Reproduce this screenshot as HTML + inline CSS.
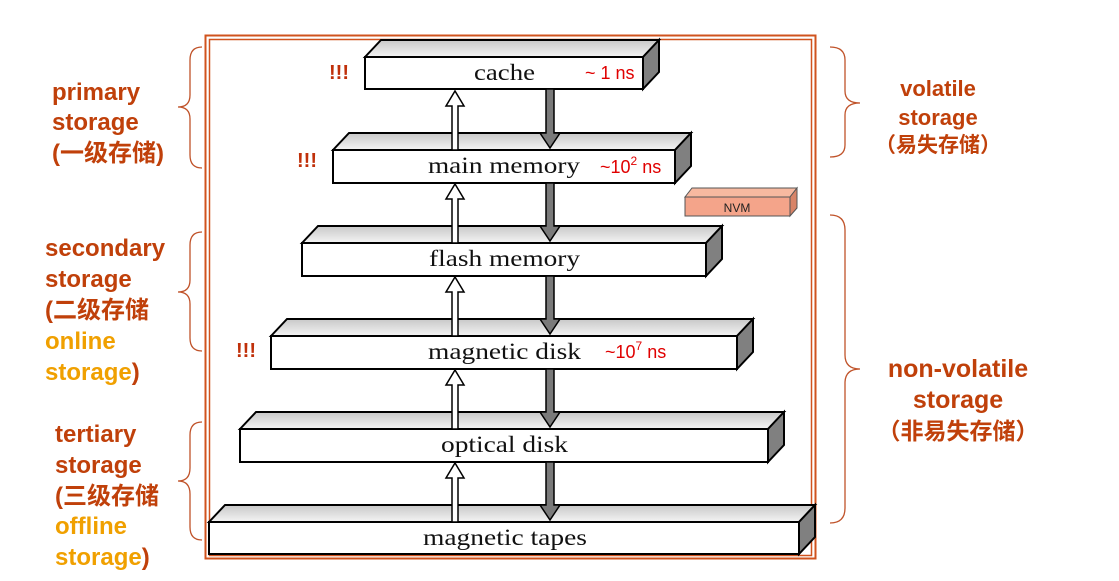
<!DOCTYPE html>
<html><head><meta charset="utf-8"><style>
html,body{margin:0;padding:0;background:#fff}
svg{display:block}
.lab{font-family:"Liberation Sans","Noto Sans CJK SC",sans-serif;font-weight:bold}
.box{font-family:"Liberation Serif",serif;font-size:23px;fill:#111}
.t{font-family:"Liberation Sans",sans-serif;font-size:18px;fill:#e00000}
</style></head><body>
<svg width="1119" height="581" viewBox="0 0 1119 581" xmlns="http://www.w3.org/2000/svg">
<defs>
<linearGradient id="tg" x1="0" y1="0" x2="0" y2="1"><stop offset="0" stop-color="#c8c8c8"/><stop offset="1" stop-color="#f4f4f4"/></linearGradient>
</defs>
<rect x="205.5" y="35.5" width="610" height="523" fill="none" stroke="#d0531e" stroke-width="2"/>
<rect x="209.5" y="39.5" width="602" height="516" fill="none" stroke="#d0531e" stroke-width="1.5"/>

<g stroke="#000" stroke-width="2" stroke-linejoin="miter">
<polygon points="365,57 381,40 659,40 643,57" fill="url(#tg)"/>
<polygon points="643,57 659,40 659,72 643,89" fill="#808080"/>
<rect x="365" y="57" width="278" height="32" fill="#fff"/>
<polygon points="333,150 349,133 691,133 675,150" fill="url(#tg)"/>
<polygon points="675,150 691,133 691,166 675,183" fill="#808080"/>
<rect x="333" y="150" width="342" height="33" fill="#fff"/>
<polygon points="302,243 318,226 722,226 706,243" fill="url(#tg)"/>
<polygon points="706,243 722,226 722,259 706,276" fill="#808080"/>
<rect x="302" y="243" width="404" height="33" fill="#fff"/>
<polygon points="271,336 287,319 753,319 737,336" fill="url(#tg)"/>
<polygon points="737,336 753,319 753,352 737,369" fill="#808080"/>
<rect x="271" y="336" width="466" height="33" fill="#fff"/>
<polygon points="240,429 256,412 784,412 768,429" fill="url(#tg)"/>
<polygon points="768,429 784,412 784,445 768,462" fill="#808080"/>
<rect x="240" y="429" width="528" height="33" fill="#fff"/>
<polygon points="209,522 225,505 815,505 799,522" fill="url(#tg)"/>
<polygon points="799,522 815,505 815,537 799,554" fill="#808080"/>
<rect x="209" y="522" width="590" height="32" fill="#fff"/>
</g>

<g stroke="#555" stroke-width="1">
<polygon points="685,197 692,188 797,188 790,197" fill="#f7b9a0"/>
<polygon points="790,197 797,188 797,208 790,216" fill="#d88468"/>
<rect x="685" y="197" width="105" height="19" fill="#f4a48a"/>
</g>
<text x="737" y="212" text-anchor="middle" font-family="Liberation Sans,sans-serif" font-size="12" fill="#222">NVM</text>

<g stroke="#000" stroke-width="1.5">
<g fill="#fff">
<path d="M452,150 V106 H446 L455,91 L464,106 H458 V150 Z"/>
<path d="M452,243 V199 H446 L455,184 L464,199 H458 V243 Z"/>
<path d="M452,336 V292 H446 L455,277 L464,292 H458 V336 Z"/>
<path d="M452,429 V385 H446 L455,370 L464,385 H458 V429 Z"/>
<path d="M452,522 V478 H446 L455,463 L464,478 H458 V522 Z"/>
</g>
<g fill="#7a7a7a">
<path d="M546,89 V133 H540 L550,148 L560,133 H554 V89 Z"/>
<path d="M546,183 V226 H540 L550,241 L560,226 H554 V183 Z"/>
<path d="M546,276 V319 H540 L550,334 L560,319 H554 V276 Z"/>
<path d="M546,369 V412 H540 L550,427 L560,412 H554 V369 Z"/>
<path d="M546,462 V505 H540 L550,520 L560,505 H554 V462 Z"/>
</g>
</g>

<text class="box" x="474" y="80" textLength="61" lengthAdjust="spacingAndGlyphs">cache</text>
<text class="box" x="428" y="173" textLength="152" lengthAdjust="spacingAndGlyphs">main memory</text>
<text class="box" x="429" y="266" textLength="151" lengthAdjust="spacingAndGlyphs">flash memory</text>
<text class="box" x="428" y="359" textLength="153" lengthAdjust="spacingAndGlyphs">magnetic disk</text>
<text class="box" x="441" y="452" textLength="127" lengthAdjust="spacingAndGlyphs">optical disk</text>
<text class="box" x="423" y="545" textLength="164" lengthAdjust="spacingAndGlyphs">magnetic tapes</text>

<text class="t" x="585" y="79">~ 1 ns</text>
<text class="t" x="600" y="173">~10<tspan font-size="12" dy="-8">2</tspan><tspan dy="8"> ns</tspan></text>
<text class="t" x="605" y="358">~10<tspan font-size="12" dy="-8">7</tspan><tspan dy="8"> ns</tspan></text>

<g class="lab" fill="#c0300a" font-size="20">
<text x="329" y="79">!!!</text>
<text x="297" y="167">!!!</text>
<text x="236" y="357">!!!</text>
</g>

<g fill="none" stroke="#c0532a" stroke-width="1.3">
<path d="M202,47 Q190,47 190,60 V95 Q190,107 178,107 Q190,107 190,119 V155 Q190,168 202,168"/>
<path d="M202,232 Q190,232 190,245 V280 Q190,292 178,292 Q190,292 190,304 V338 Q190,351 202,351"/>
<path d="M202,422 Q190,422 190,435 V468 Q190,481 178,481 Q190,481 190,494 V527 Q190,540 202,540"/>
<path d="M830,47 Q845,47 845,60 V91 Q845,103 860,103 Q845,103 845,115 V145 Q845,157 830,157"/>
<path d="M830,215 Q845,215 845,230 V355 Q845,369 860,369 Q845,369 845,383 V508 Q845,523 830,523"/>
</g>

<g class="lab" font-size="24" fill="#c0400a">
<text x="52" y="100">primary</text>
<text x="52" y="130">storage</text>
<text x="52" y="161">(一级存储)</text>
<text x="45" y="256">secondary</text>
<text x="45" y="287">storage</text>
<text x="45" y="318">(二级存储</text>
<text x="45" y="349" fill="#f0a000">online</text>
<text x="45" y="380"><tspan fill="#f0a000">storage</tspan>)</text>
<text x="55" y="442">tertiary</text>
<text x="55" y="473">storage</text>
<text x="55" y="504">(三级存储</text>
<text x="55" y="534" fill="#f0a000">offline</text>
<text x="55" y="565"><tspan fill="#f0a000">storage</tspan>)</text>
</g>

<g class="lab" fill="#c0400a" text-anchor="middle">
<text x="938" y="96" font-size="22">volatile</text>
<text x="938" y="125" font-size="22">storage</text>
<text x="938" y="152" font-size="21">（易失存储）</text>
<text x="958" y="377" font-size="25">non-volatile</text>
<text x="958" y="408" font-size="25">storage</text>
<text x="958" y="439" font-size="23">（非易失存储）</text>
</g>
</svg>
</body></html>
